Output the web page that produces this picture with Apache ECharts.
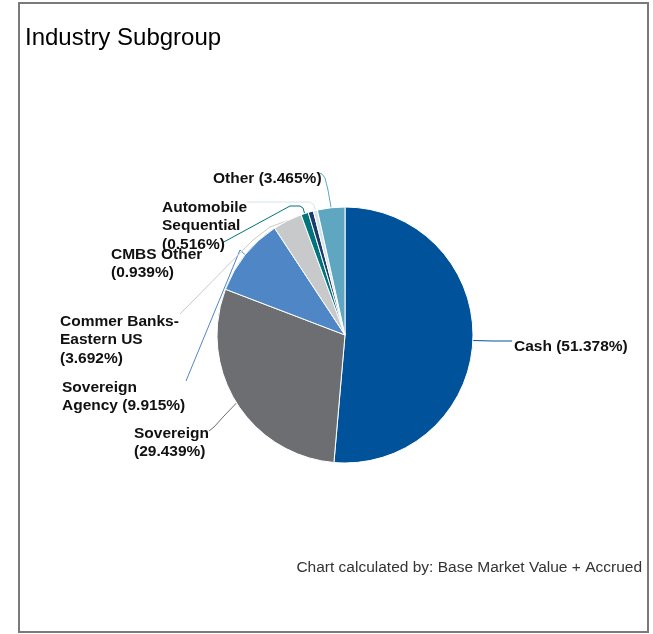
<!DOCTYPE html>
<html><head><meta charset="utf-8">
<script src="https://cdn.jsdelivr.net/npm/echarts@6/dist/echarts.min.js"></script>
<style>html,body{margin:0;padding:0;background:#fff}#c{width:653px;height:634px}</style>
</head><body><div id="c"></div>
<script>
// ---- data ----
const categories = ['Cash', 'Sovereign', 'Sovereign Agency', 'Commer Banks-Eastern US', 'CMBS Other', 'Unlabeled', 'Automobile Sequential', 'Other'];
const values = [51.378, 29.439, 9.915, 3.692, 0.939, 0.656, 0.516, 3.465];
const showLabel = [true, true, true, true, true, false, true, true];
// line breaks used in the label text
const wrapped = {
  'Sovereign': 'Sovereign\n',
  'Sovereign Agency': 'Sovereign\nAgency ',
  'Commer Banks-Eastern US': 'Commer Banks-\nEastern US\n',
  'CMBS Other': 'CMBS Other\n',
  'Automobile Sequential': 'Automobile\nSequential\n'
};

// ---- styling / label placement (not data) ----
const colors = ['#00529b', '#6d6e71', '#4f86c6', '#c8c9cb', '#00747a', '#1c3a6b', '#d6e4ec', '#5fa7c0'];
// label block top-left and leader-line bend / end points
const labelPlace = {
  'Cash': {x: 514, y: 337, pts: [[493, 341], [512, 341]]},
  'Sovereign': {x: 134, y: 424, pts: [[224, 416], [214, 427], [209, 431]]},
  'Sovereign Agency': {x: 62, y: 378, pts: [[240, 250], [186, 381]]},
  'Commer Banks-Eastern US': {x: 60, y: 312, pts: [[270, 227], [253, 240], [180, 314]]},
  'CMBS Other': {x: 111, y: 245, pts: [[303, 208], [300, 206], [290, 206], [222, 243]]},
  'Automobile Sequential': {x: 162, y: 198, pts: [[314, 205], [310, 202], [247, 202]]},
  'Other': {x: 213, y: 169, pts: [[328, 190], [325, 178], [322, 174], [319, 173]]}
};

const chart = echarts.init(document.getElementById('c'), null, {renderer: 'canvas'});
const data = categories.map((n, i) => ({
  name: n, value: values[i],
  itemStyle: {color: colors[i]},
  label: {show: showLabel[i]},
  labelLine: {show: showLabel[i], lineStyle: {color: colors[i]}}
}));

const FONT = 'Liberation Sans';
chart.setOption({
  animation: false,
  title: {
    text: 'Industry Subgroup', left: 20, top: 21,
    textStyle: {fontFamily: FONT, fontSize: 24, fontWeight: 'normal', color: '#000'}
  },
  graphic: [
    {type: 'rect', shape: {x: 19, y: 3, width: 629, height: 629}, style: {fill: 'none', stroke: '#7a7a7a', lineWidth: 2}, silent: true},
    {type: 'text', right: 11, top: 560, style: {text: 'Chart calculated by: Base Market Value + Accrued', fontFamily: FONT, fontSize: 15.5, fill: '#333'}}
  ],
  series: [{
    type: 'pie',
    center: [345, 335],
    radius: [0, 128],
    startAngle: 90,
    clockwise: true,
    avoidLabelOverlap: false,
    itemStyle: {borderColor: '#fff', borderWidth: 1},
    label: {
      fontFamily: FONT, fontSize: 15.5, fontWeight: 'bold', color: '#111', lineHeight: 18.5,
      formatter: p => '{a|' + (wrapped[p.name] || (p.name + ' ')).split('\n').join('}\n{a|') + '(' + p.value.toFixed(3) + '%)}',
      rich: {a: {fontFamily: FONT, fontSize: 15.5, fontWeight: 'bold', color: '#111', lineHeight: 18.5, align: 'left'}}
    },
    labelLine: {length: 15, length2: 10, smooth: 0, lineStyle: {width: 1}},
    labelLayout: function (params) {
      const name = categories[params.dataIndex];
      const lp = labelPlace[name];
      if (!lp || !params.labelLinePoints) return {};
      const start = params.labelLinePoints[0];
      return {
        x: lp.x, y: lp.y, align: 'left', verticalAlign: 'top',
        labelLinePoints: [start].concat(lp.pts)
      };
    },
    data: data
  }]
});
</script></body></html>
